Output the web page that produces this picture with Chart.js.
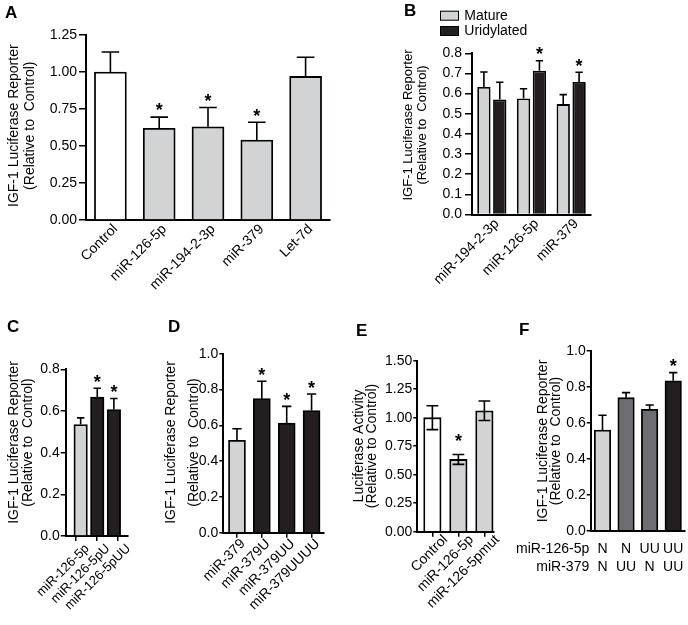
<!DOCTYPE html>
<html>
<head>
<meta charset="utf-8">
<script src="https://cdn.jsdelivr.net/npm/chart.js@4.4.0/dist/chart.umd.min.js"></script>
<style>
  html, body { margin: 0; padding: 0; background: #fff; }
  #page { position: relative; width: 688px; height: 625px; overflow: hidden; }
  canvas { position: absolute; }
  .lbl { position: absolute; font: bold 17px 'Liberation Sans', Arial, sans-serif; line-height: 17px; color: #000; }
</style>
</head>
<body>
<div id="page">
  <canvas id="cA"></canvas>
  <canvas id="cB"></canvas>
  <canvas id="cC"></canvas>
  <canvas id="cD"></canvas>
  <canvas id="cE"></canvas>
  <canvas id="cF"></canvas>
  <div class="lbl" style="left:5px;top:4px">A</div>
  <div class="lbl" style="left:404px;top:2px">B</div>
  <div class="lbl" style="left:7px;top:318px">C</div>
  <div class="lbl" style="left:168px;top:318px">D</div>
  <div class="lbl" style="left:356px;top:322px">E</div>
  <div class="lbl" style="left:519px;top:321px">F</div>
</div>
<script>
// panel A
const catsA = ['Control', 'miR-126-5p', 'miR-194-2-3p', 'miR-379', 'Let-7d'];
const valsA = [1.00, 0.62, 0.63, 0.54, 0.97];
const semA = [0.135, 0.075, 0.13, 0.12, 0.13];
const starA = [0, 1, 1, 1, 0];
const ticksA = ['0.00', '0.25', '0.50', '0.75', '1.00', '1.25'];

// panel B
const catsB = ['miR-194-2-3p', 'miR-126-5p', 'miR-379'];
const matureB = [0.633, 0.576, 0.548];
const matureSemB = [0.074, 0.048, 0.047];
const uridB = [0.571, 0.714, 0.658];
const uridSemB = [0.085, 0.049, 0.048];
const uridStarB = [0, 1, 1];
const ticksB = ['0.0', '0.1', '0.2', '0.3', '0.4', '0.5', '0.6', '0.7', '0.8'];

// panel C
const catsC = ['miR-126-5p', 'miR-126-5pU', 'miR-126-5pUU'];
const valsC = [0.535, 0.667, 0.607];
const semC = [0.032, 0.042, 0.053];
const starC = [0, 1, 1];
const ticksC = ['0.0', '0.2', '0.4', '0.6', '0.8'];

// panel D
const catsD = ['miR-379', 'miR-379U', 'miR-379UU', 'miR-379UUUU'];
const valsD = [0.516, 0.749, 0.613, 0.682];
const semD = [0.065, 0.097, 0.093, 0.093];
const starD = [0, 1, 1, 1];
const ticksD = ['0.0', '0.2', '0.4', '0.6', '0.8', '1.0'];

// panel E
const catsE = ['Control', 'miR-126-5p', 'miR-126-5pmut'];
const valsE = [1.00, 0.634, 1.061];
const semE = [0.105, 0.043, 0.085];
const starE = [0, 1, 0];
const ticksE = ['0.00', '0.25', '0.50', '0.75', '1.00', '1.25', '1.50'];

// panel F
const rowNamesF = ['miR-126-5p', 'miR-379'];
const row126F = ['N', 'N', 'UU', 'UU'];
const row379F = ['N', 'UU', 'N', 'UU'];
const valsF = [0.559, 0.739, 0.674, 0.833];
const semF = [0.082, 0.028, 0.024, 0.045];
const starF = [0, 0, 0, 1];
const ticksF = ['0.0', '0.2', '0.4', '0.6', '0.8', '1.0'];

const WHITE = '#ffffff', GRAY = '#d1d3d4', DARK = '#6d6e71', BLACK = '#231f20';
const FONT = "'Liberation Sans', Arial, sans-serif";

Chart.defaults.font.family = FONT;
Chart.defaults.color = '#000';

// error bars + asterisks
function errBars(p) {
  return {
    id: 'errbars',
    afterDatasetsDraw(chart) {
      const ctx = chart.ctx, y = chart.scales.y;
      ctx.save();
      ctx.strokeStyle = '#000';
      ctx.fillStyle = '#000';
      ctx.lineWidth = 1.6;
      p.series.forEach((s, di) => {
        chart.getDatasetMeta(di).data.forEach((bar, i) => {
          const v = s.vals[i], e = s.sem[i];
          const top = y.getPixelForValue(v + e);
          const lo = p.both ? y.getPixelForValue(v - e) : bar.y;
          const half = bar.width * p.cap / 2;
          ctx.beginPath();
          ctx.moveTo(bar.x, lo); ctx.lineTo(bar.x, top);
          ctx.moveTo(bar.x - half, top); ctx.lineTo(bar.x + half, top);
          if (p.both) { ctx.moveTo(bar.x - half, lo); ctx.lineTo(bar.x + half, lo); }
          ctx.stroke();
          if (s.stars && s.stars[i]) {
            ctx.font = 'bold 18px ' + FONT;
            ctx.textAlign = 'center';
            ctx.textBaseline = 'alphabetic';
            ctx.fillText('*', bar.x, top - p.starGap + 10.3);
          }
        });
      });
      ctx.restore();
    }
  };
}

// rotated two-line axis title, placed like the figure
function yTitle(p) {
  return {
    id: 'ytitle',
    afterDraw(chart) {
      const ctx = chart.ctx;
      ctx.save();
      ctx.font = p.titleSize + 'px ' + FONT;
      ctx.fillStyle = '#000';
      ctx.textAlign = 'center';
      ctx.textBaseline = 'middle';
      p.title.forEach((t, i) => {
        ctx.save();
        ctx.translate(p.titleX + i * p.titleGap - p.box[0], p.titleY - p.box[1]);
        ctx.rotate(-Math.PI / 2);
        ctx.fillText(t, 0, 0);
        ctx.restore();
      });
      ctx.restore();
    }
  };
}

const legendB = {
  id: 'legendB',
  afterDraw(chart) {
    const ctx = chart.ctx;
    ctx.save();
    ctx.font = '14px ' + FONT;
    ctx.textBaseline = 'middle';
    ctx.textAlign = 'left';
    chart.data.datasets.forEach((ds, i) => {
      const y = 10.7 + i * 15.3;
      ctx.fillStyle = ds.backgroundColor;
      ctx.fillRect(55, y, 19, 10);
      ctx.strokeStyle = '#000';
      ctx.lineWidth = 1;
      ctx.strokeRect(55.5, y + 0.5, 18, 9);
      ctx.fillStyle = '#000';
      ctx.fillText(ds.label, 79.3, y + 5.5);
    });
    ctx.restore();
  }
};

const rowsF = {
  id: 'rowsF',
  afterDraw(chart) {
    const ctx = chart.ctx, x = chart.scales.x, a = chart.chartArea;
    ctx.save();
    ctx.font = '14px ' + FONT;
    ctx.fillStyle = '#000';
    ctx.textBaseline = 'middle';
    [row126F, row379F].forEach((row, r) => {
      const y = a.bottom + 18.6 + r * 17.4;
      ctx.textAlign = 'right';
      ctx.fillText(rowNamesF[r], a.left - 1.5, y);
      ctx.textAlign = 'center';
      row.forEach((t, i) => ctx.fillText(t, x.getPixelForValue(i), y));
    });
    ctx.restore();
  }
};

function makePanel(p) {
  const [bl, bt, bw, bh] = p.box;
  const [al, at, ar, ab] = p.area;
  const cv = document.getElementById(p.id);
  cv.width = bw; cv.height = bh;
  cv.style.left = bl + 'px'; cv.style.top = bt + 'px';
  const ymax = parseFloat(p.yTicks[p.yTicks.length - 1]);
  const n = p.cats.length;
  // ticks at the bars, or spread evenly along the axis (panel C)
  const tickAt = i => p.evenTicks ? p.xMin + (i + 0.5) * (p.xMax - p.xMin) / n : i;
  return new Chart(cv, {
    type: 'bar',
    data: {
      datasets: p.series.map(s => ({
        label: s.label,
        data: s.vals.map((v, i) => ({ x: i, y: v })),
        backgroundColor: s.colors,
        borderColor: '#000',
        borderWidth: 1.8,
        barThickness: p.barW,
        barPercentage: p.barPct || 0.9,
        categoryPercentage: p.catPct || 0.8
      }))
    },
    options: {
      responsive: false,
      animation: false,
      devicePixelRatio: 1,
      layout: { padding: { left: 0, top: at - bt, right: bl + bw - ar, bottom: 0 } },
      plugins: { legend: { display: false }, tooltip: { enabled: false } },
      scales: {
        x: {
          type: 'linear', min: p.xMin, max: p.xMax, offset: false,
          afterBuildTicks: s => { s.ticks = p.cats.map((c, i) => ({ value: tickAt(i) })); },
          afterFit: s => { s.height = bt + bh - ab; },
          grid: { display: p.xMarks, offset: false, drawOnChartArea: false, tickLength: 5, color: '#000', lineWidth: 1.5 },
          border: { display: true, color: '#000', width: 2 },
          ticks: {
            display: p.xLabels, autoSkip: false, minRotation: 45, maxRotation: 45,
            padding: p.xPad, labelOffset: p.xOff || 0,
            font: { size: p.xFont }, color: '#000',
            callback: (v, i) => p.cats[i]
          }
        },
        y: {
          min: 0, max: ymax,
          afterBuildTicks: s => { s.ticks = p.yTicks.map(t => ({ value: parseFloat(t) })); },
          afterFit: s => { s.width = al - bl; },
          grid: { drawOnChartArea: false, tickLength: p.yTL, color: '#000', lineWidth: 1.5 },
          border: { color: '#000', width: 2 },
          ticks: { padding: p.yPad, font: { size: 14 }, color: '#000', callback: (v, i) => p.yTicks[i] }
        }
      }
    },
    plugins: [errBars(p), yTitle(p)].concat(p.extra || [])
  });
}

const TITLE = ['IGF-1 Luciferase Reporter', '(Relative to  Control)'];

makePanel({
  id: 'cA', box: [0, 0, 345, 305], area: [86, 35, 330, 220],
  cats: catsA, xMin: -0.5, xMax: 4.5, yTicks: ticksA,
  series: [{ vals: valsA, sem: semA, stars: starA, colors: [WHITE, GRAY, GRAY, GRAY, GRAY] }],
  barW: 32, cap: 0.55, starGap: 11,
  title: TITLE, titleSize: 14, titleX: 14.5, titleGap: 16, titleY: 125.7,
  yTL: 7, yPad: 2, xMarks: false, xLabels: true, xFont: 14, xPad: -4, xOff: 5
});

makePanel({
  id: 'cB', box: [385, 0, 303, 305], area: [472, 53.3, 591, 214.5],
  cats: catsB, xMin: -0.5, xMax: 2.5, yTicks: ticksB,
  series: [
    { label: 'Mature', vals: matureB, sem: matureSemB, colors: GRAY },
    { label: 'Uridylated', vals: uridB, sem: uridSemB, stars: uridStarB, colors: BLACK }
  ],
  catPct: 0.8, barPct: 0.84, cap: 0.55, starGap: 11,
  title: TITLE, titleSize: 13, titleX: 408.5, titleGap: 13.5, titleY: 125,
  yTL: 7, yPad: 3, xMarks: false, xLabels: true, xFont: 14, xPad: -4, xOff: 5,
  extra: [legendB]
});

makePanel({
  id: 'cC', box: [0, 310, 170, 315], area: [65.7, 369.3, 128, 536],
  cats: catsC, xMin: -0.9, xMax: 2.85, yTicks: ticksC, evenTicks: true,
  series: [{ vals: valsC, sem: semC, stars: starC, colors: [GRAY, BLACK, BLACK] }],
  barW: 13.5, cap: 0.55, starGap: 11,
  title: TITLE, titleSize: 14, titleX: 14.3, titleGap: 14, titleY: 442.5,
  yTL: 5, yPad: 1, xMarks: true, xLabels: true, xFont: 13, xPad: 0, xOff: 11
});

makePanel({
  id: 'cD', box: [150, 310, 180, 315], area: [223.3, 353.7, 324, 532.7],
  cats: catsD, xMin: -0.55, xMax: 3.5, yTicks: ticksD,
  series: [{ vals: valsD, sem: semD, stars: starD, colors: [GRAY, BLACK, BLACK, BLACK] }],
  barW: 17, cap: 0.55, starGap: 10.5,
  title: TITLE, titleSize: 14, titleX: 171, titleGap: 23, titleY: 442.5,
  yTL: 4, yPad: 1, xMarks: true, xLabels: true, xFont: 14, xPad: -2, xOff: 6
});

makePanel({
  id: 'cE', box: [340, 310, 170, 315], area: [417.3, 360.7, 494, 531.7],
  cats: catsE, xMin: -0.58, xMax: 2.37, yTicks: ticksE,
  series: [{ vals: valsE, sem: semE, stars: starE, colors: [WHITE, GRAY, GRAY] }],
  barW: 17.5, cap: 0.67, starGap: 18, both: true,
  title: ['Luciferase Activity', '(Relative to Control)'], titleSize: 14, titleX: 359, titleGap: 13.5, titleY: 446,
  yTL: 4, yPad: 1, xMarks: true, xLabels: true, xFont: 14, xPad: -5, xOff: 13
});

makePanel({
  id: 'cF', box: [505, 310, 183, 315], area: [590.7, 350.7, 685, 530.7],
  cats: row126F, xMin: -0.5, xMax: 3.5, yTicks: ticksF,
  series: [{ vals: valsF, sem: semF, stars: starF, colors: [GRAY, DARK, DARK, BLACK] }],
  barW: 16.5, cap: 0.5, starGap: 11,
  title: TITLE, titleSize: 14, titleX: 543, titleGap: 13, titleY: 441,
  yTL: 4, yPad: 1, xMarks: false, xLabels: false, xFont: 14, xPad: 3,
  extra: [rowsF]
});
</script>
</body>
</html>
